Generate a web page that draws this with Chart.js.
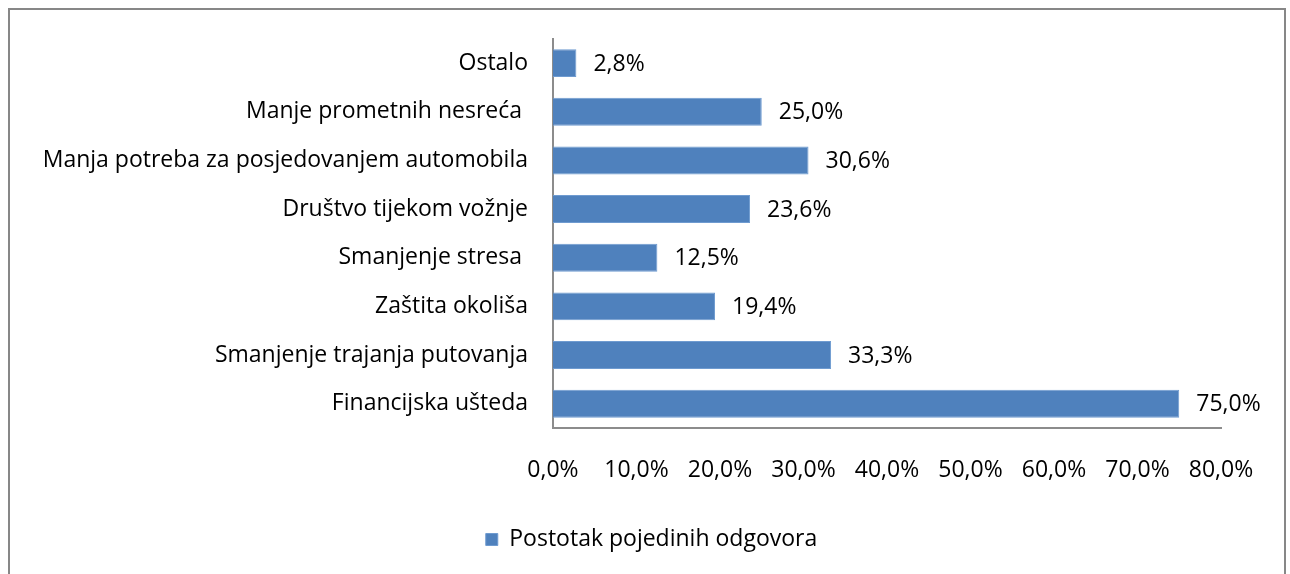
<!DOCTYPE html>
<html>
<head>
<meta charset="utf-8">
<script src="https://cdn.jsdelivr.net/npm/chart.js@4.4.0/dist/chart.umd.min.js"></script>
<style>
  html, body { margin: 0; padding: 0; background: #fff; overflow: hidden; }
  #frame { position: absolute; left: 8px; top: 8px; width: 1274px; height: 600px; border: 2px solid #878787; }
  #wrap { position: absolute; left: 0; top: 0; width: 1290px; height: 574px; }
</style>
</head>
<body>
<div id="frame"></div>
<div id="wrap"><canvas id="chart" width="1290" height="574"></canvas></div>
<script>
// ── Data ──────────────────────────────────────────────────────
const categories = [
  'Ostalo',
  'Manje prometnih nesreća ',
  'Manja potreba za posjedovanjem automobila',
  'Društvo tijekom vožnje',
  'Smanjenje stresa ',
  'Zaštita okoliša',
  'Smanjenje trajanja putovanja',
  'Financijska ušteda'
];
const values = [2.8, 25.0, 30.6, 23.6, 12.5, 19.4, 33.3, 75.0];
const seriesName = 'Postotak pojedinih odgovora';
const xTicks = [0, 10, 20, 30, 40, 50, 60, 70, 80];

const FONT = '"Open Sans", Lato, sans-serif';
const FSIZE = 23;
const pct = v => v.toFixed(1).replace('.', ',') + '%';

// ── Value labels at bar ends ─────────────────────────────────
const valueLabels = {
  id: 'valueLabels',
  afterDatasetsDraw(chart) {
    const ctx = chart.ctx;
    const meta = chart.getDatasetMeta(0);
    ctx.save();
    ctx.font = FSIZE + 'px ' + FONT;
    ctx.fillStyle = '#000';
    ctx.textAlign = 'left';
    ctx.textBaseline = 'middle';
    meta.data.forEach((bar, i) => {
      ctx.fillText(pct(values[i]), bar.x + 17, bar.y + 1);
    });
    ctx.restore();
  }
};

// ── Nudge legend so it sits centred like the reference ───────
const legendShift = {
  id: 'legendShift',
  afterLayout(chart) {
    if (!chart.legend) return;
    chart.legend.left += 41;
    chart.legend.right += 41;
  }
};

Chart.defaults.font.family = FONT;
Chart.defaults.font.size = FSIZE;
Chart.defaults.color = '#000';

new Chart(document.getElementById('chart'), {
  type: 'bar',
  data: {
    labels: categories,
    datasets: [{
      label: seriesName,
      data: values,
      backgroundColor: '#4f81bd',
      borderColor: '#6f9bd0',
      borderWidth: 1,
      barPercentage: 0.575,
      categoryPercentage: 1
    }]
  },
  options: {
    indexAxis: 'y',
    responsive: false,
    animation: false,
    layout: { padding: { top: 38, right: 69, left: 0, bottom: 13 } },
    plugins: {
      legend: {
        position: 'bottom',
        labels: { boxWidth: 12, boxHeight: 12, padding: 12, font: { size: FSIZE } }
      },
      tooltip: { enabled: false }
    },
    scales: {
      x: {
        min: 0, max: 80,
        afterBuildTicks: s => { s.ticks = xTicks.map(v => ({ value: v })); },
        afterFit: s => { s.height = 88; },
        grid: { display: false, drawTicks: false },
        border: { display: true, color: '#8c8c8c', width: 2 },
        ticks: { padding: 29, callback: v => pct(v) }
      },
      y: {
        afterFit: s => { s.width = 553; },
        grid: { display: false, drawTicks: false },
        border: { display: true, color: '#8c8c8c', width: 2 },
        ticks: { padding: 25 }
      }
    }
  },
  plugins: [valueLabels, legendShift]
});
</script>
</body>
</html>
